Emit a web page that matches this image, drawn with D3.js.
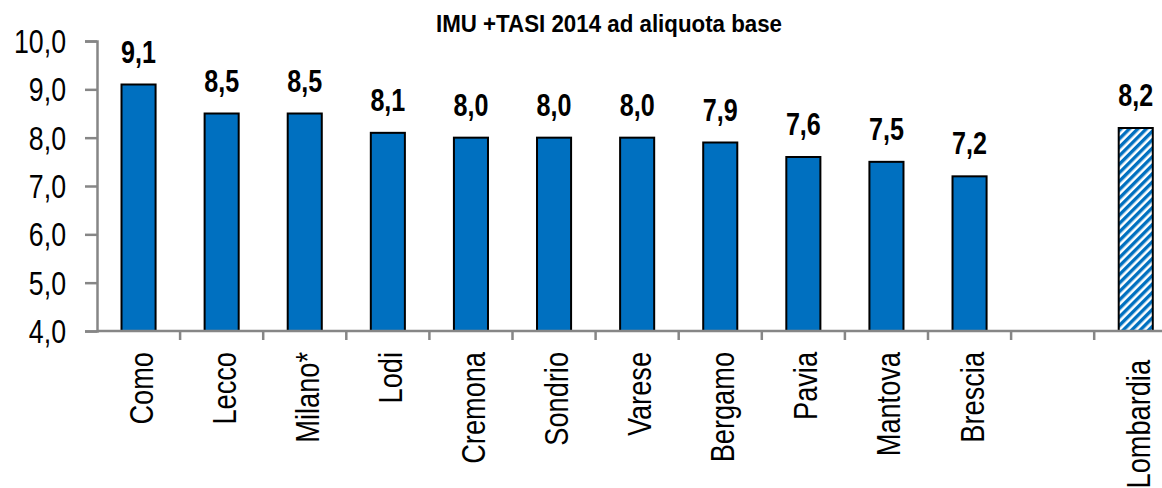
<!DOCTYPE html>
<html>
<head>
<meta charset="utf-8">
<script src="https://cdn.jsdelivr.net/npm/d3@7"></script>
<style>
  body { margin: 0; background: #fff; }
  svg { display: block; font-family: "Liberation Sans", Arial, sans-serif; }
</style>
</head>
<body>
<div id="chart"></div>
<script>
// donnees
const categories = ["Como", "Lecco", "Milano*", "Lodi", "Cremona", "Sondrio", "Varese", "Bergamo", "Pavia", "Mantova", "Brescia", "", "Lombardia"];
const valeurs = [9.1, 8.5, 8.5, 8.1, 8.0, 8.0, 8.0, 7.9, 7.6, 7.5, 7.2, null, 8.2];
const ticksY = [4, 5, 6, 7, 8, 9, 10];
const titre = "IMU +TASI 2014 ad aliquota base";

const width = 1162, height = 488;
const fmt = v => d3.format(".1f")(v).replace(".", ",");
const etroit = 0.81; // simule une police etroite (Arial Narrow)

const svg = d3.select("#chart").append("svg")
    .attr("width", width)
    .attr("height", height);

// motif hachure pour Lombardia
const defs = svg.append("defs");
const pat = defs.append("pattern")
    .attr("id", "hatch")
    .attr("patternUnits", "userSpaceOnUse")
    .attr("width", 6).attr("height", 6)
    .attr("patternTransform", "rotate(-45)");
pat.append("rect").attr("width", 6).attr("height", 6).attr("fill", "#fff");
pat.append("rect").attr("width", 6).attr("height", 3.4).attr("fill", "#0070C0");

const x = d3.scaleBand()
    .domain(d3.range(categories.length))
    .range([97, 97 + 13 * 83.1])
    .paddingInner(0.59)
    .paddingOuter(0.295);

const y = d3.scaleLinear()
    .domain([4, 10])
    .range([331, 41]);

// axe Y
const axeY = svg.append("g")
    .attr("transform", "translate(97,0)")
    .call(d3.axisLeft(y).tickValues(ticksY).tickSize(12));
axeY.select(".domain").attr("stroke", "#868686").attr("stroke-width", 2.5);
axeY.selectAll(".tick line").attr("stroke", "#868686").attr("stroke-width", 2.5);
axeY.selectAll(".tick text").remove();

svg.selectAll("text.ticky")
    .data(ticksY)
    .enter()
    .append("text")
    .attr("class", "ticky")
    .attr("transform", d => `translate(66,${y(d)}) scale(${etroit},1)`)
    .attr("dy", "0.36em")
    .attr("text-anchor", "end")
    .attr("font-size", 33)
    .attr("fill", "#000")
    .text(fmt);

// barres
svg.selectAll("rect.barre")
    .data(valeurs.map((v, i) => ({v, i})).filter(d => d.v !== null))
    .enter()
    .append("rect")
    .attr("class", "barre")
    .attr("x", d => x(d.i))
    .attr("y", d => y(d.v))
    .attr("width", x.bandwidth())
    .attr("height", d => y(4) - y(d.v))
    .attr("fill", d => categories[d.i] === "Lombardia" ? "url(#hatch)" : "#0070C0")
    .attr("stroke", "#000")
    .attr("stroke-width", 2);

// etiquettes de valeurs
svg.selectAll("text.valeur")
    .data(valeurs.map((v, i) => ({v, i})).filter(d => d.v !== null))
    .enter()
    .append("text")
    .attr("class", "valeur")
    .attr("transform", d => `translate(${x(d.i) + x.bandwidth() / 2},${y(d.v) - 22}) scale(${etroit},1)`)
    .attr("text-anchor", "middle")
    .attr("font-size", 31)
    .attr("font-weight", "bold")
    .text(d => fmt(d.v));

// axe X
const bord = d3.range(categories.length + 1).map(i => 97 + i * 83.1);
svg.append("line")
    .attr("x1", 97).attr("x2", width)
    .attr("y1", 331).attr("y2", 331)
    .attr("stroke", "#868686").attr("stroke-width", 2.5);
svg.selectAll("line.tickx")
    .data(bord.slice(1))
    .enter()
    .append("line")
    .attr("class", "tickx")
    .attr("x1", d => d).attr("x2", d => d)
    .attr("y1", 331).attr("y2", 340)
    .attr("stroke", "#868686").attr("stroke-width", 2.5);

// noms des categories
svg.selectAll("text.cat")
    .data(categories.map((c, i) => ({c, i})).filter(d => d.c !== ""))
    .enter()
    .append("text")
    .attr("class", "cat")
    .attr("transform", d => `translate(${x(d.i) + x.bandwidth() / 2 + 14},${d.c === "Lombardia" ? 360 : 352}) rotate(-90) scale(0.8,1)`)
    .attr("text-anchor", "end")
    .attr("font-size", 34)
    .text(d => d.c);

// titre
svg.append("text")
    .attr("transform", "translate(609,32) scale(0.93,1)")
    .attr("text-anchor", "middle")
    .attr("font-size", 24)
    .attr("font-weight", "bold")
    .text(titre);
</script>
</body>
</html>
